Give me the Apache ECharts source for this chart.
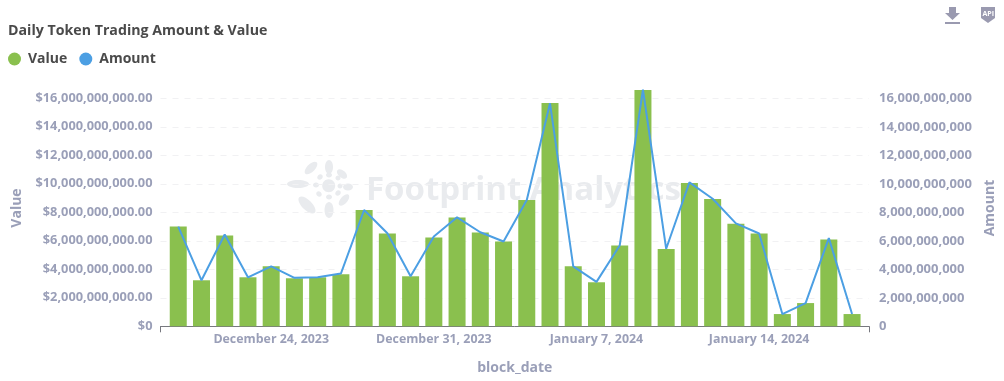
<!DOCTYPE html>
<html><head><meta charset="utf-8">
<style>html,body{margin:0;padding:0;background:#fff}#c{width:1004px;height:381px}</style>
<script src="https://cdn.jsdelivr.net/npm/echarts@6/dist/echarts.min.js"></script>
</head><body><div id="c"></div>
<script>
var dates=['2023-12-20','2023-12-21','2023-12-22','2023-12-23','2023-12-24','2023-12-25','2023-12-26','2023-12-27','2023-12-28','2023-12-29','2023-12-30','2023-12-31','2024-01-01','2024-01-02','2024-01-03','2024-01-04','2024-01-05','2024-01-06','2024-01-07','2024-01-08','2024-01-09','2024-01-10','2024-01-11','2024-01-12','2024-01-13','2024-01-14','2024-01-15','2024-01-16','2024-01-17','2024-01-18'];
var valueB=[7.0,3.23,6.37,3.44,4.21,3.37,3.44,3.65,8.16,6.51,3.51,6.23,7.63,6.58,5.95,8.87,15.67,4.21,3.09,5.67,16.58,5.42,10.06,8.93,7.2,6.51,0.86,1.63,6.09,0.86];
var amountB=[7.0,3.23,6.44,3.44,4.21,3.4,3.44,3.7,8.16,6.53,3.51,6.3,7.65,6.6,5.95,8.87,15.65,4.21,3.12,5.67,16.6,5.44,10.1,8.95,7.22,6.51,0.86,1.63,6.19,0.86];
var weekTicks=['2023-12-24','2023-12-31','2024-01-07','2024-01-14'];
var axisStart='2023-12-19T05:40:00Z', axisEnd='2024-01-18T17:30:00Z';
var labelColor='#9a9fb8', font='"Open Sans","Noto Sans",sans-serif';
function t(s){return new Date(s.length>10?s:s+'T00:00:00Z').getTime();}
function fmtDate(v){var d=new Date(v);var m=['January','February','March','April','May','June','July','August','September','October','November','December'];return m[d.getUTCMonth()]+' '+d.getUTCDate()+', '+d.getUTCFullYear();}
function commas(v){return String(Math.round(v)).replace(/\B(?=(\d{3})+$)/g,',');}
function pairs(a){return a.map(function(v,i){return [t(dates[i]),v*1e9];});}
var chart=echarts.init(document.getElementById('c'),null,{renderer:'canvas'});
var wm='#e9ebee';
var logo=[[329,167,4,7,0],[311,168,4,8,-45],[298,184,4,11,90],[307,205,5,11,45],[329,210,4.5,8,0],[344,200,3.5,7,-40],[348,187,3.5,5,90],[342,174,3.5,6,50],
 [329,175,3,2.5,0],[320,177,2.5,3,-45],[316,185,2.5,3,90],[319,194,2.5,3,45],[329,197,3,2.5,0],[338,193,2.5,3,-45],[340,186,2.5,2.5,0],[338,178,2.5,2.5,45],[328.7,185.7,6.5,6.5,0]];
var logoEls=logo.map(function(p){return {type:'ellipse',x:p[0],y:p[1],rotation:p[4]*Math.PI/180,shape:{cx:0,cy:0,rx:p[2],ry:p[3]},style:{fill:wm},silent:true,z:0};});
var yAxisBase={type:'value',min:0,max:16.6e9,interval:2e9,axisLine:{show:false},axisTick:{show:false},nameLocation:'middle',
  nameTextStyle:{color:labelColor,fontFamily:font,fontWeight:700,fontSize:14}};
chart.setOption({
  animation:false,
  title:{text:'Daily Token Trading Amount & Value',left:3,top:19,textStyle:{fontFamily:font,fontSize:14.2,fontWeight:700,color:'#4a4a4a'}},
  legend:{left:3,top:47,itemWidth:13,itemHeight:13,itemGap:12,icon:'circle',data:['Value','Amount'],textStyle:{fontFamily:font,fontSize:14,fontWeight:700,color:'#4a4a4a',padding:[0,0,0,2]}},
  grid:{left:160.5,right:135,top:89.75,bottom:54.7,outerBoundsMode:'none'},
  xAxis:{type:'value',min:t(axisStart),max:t(axisEnd),name:'block_date',nameLocation:'middle',nameGap:35,
    nameTextStyle:{color:labelColor,fontFamily:font,fontWeight:700,fontSize:14},
    axisLine:{onZero:false,lineStyle:{color:'#77787f',width:1}},
    axisTick:{show:true,length:6,customValues:[t(axisStart),t(axisEnd)],lineStyle:{color:'#77787f'}},
    axisLabel:{customValues:weekTicks.map(t),formatter:function(v){return fmtDate(v);},color:labelColor,fontFamily:font,fontWeight:700,fontSize:12.4,margin:7,hideOverlap:false},
    splitLine:{show:false}},
  yAxis:[
    Object.assign({},yAxisBase,{position:'left',name:'Value',nameGap:136,
      axisLabel:{color:labelColor,fontFamily:font,fontWeight:700,fontSize:12.8,margin:8,showMaxLabel:false,formatter:function(v){return v===0?'$0':'$'+commas(v)+'.00';}},
      splitLine:{show:true,showMaxLine:false,showMinLine:false,lineStyle:{color:'#f1f1f3',type:[6,6],width:1}}}),
    Object.assign({},yAxisBase,{position:'right',name:'Amount',nameGap:113,
      axisLabel:{color:labelColor,fontFamily:font,fontWeight:700,fontSize:13,margin:10,showMaxLabel:false,formatter:function(v){return commas(v);}},
      splitLine:{show:false}})
  ],
  series:[
    {name:'Value',type:'bar',barWidth:17,yAxisIndex:0,data:pairs(valueB),itemStyle:{color:'#8ac04e'},z:2},
    {name:'Amount',type:'line',yAxisIndex:1,data:pairs(amountB),showSymbol:false,smooth:false,lineStyle:{color:'#4c9fe3',width:2},itemStyle:{color:'#4c9fe3'},z:3}
  ],
  graphic:{elements:logoEls.concat([
    {type:'text',x:366,y:174,silent:true,z:0,style:{text:'Footprint Analytics',font:'700 33px '+font,fill:wm}},
    {type:'group',x:945,y:7,children:[
      {type:'polygon',shape:{points:[[4,0],[11,0],[11,6],[15,6],[7.5,13],[0,6],[4,6]]},style:{fill:'#9a9ab0'}},
      {type:'rect',shape:{x:0,y:15,width:15,height:2},style:{fill:'#9a9ab0'}}]},
    {type:'group',x:981,y:7,children:[
      {type:'polygon',shape:{points:[[0,0],[14,0],[14,11],[7,16],[0,11]]},style:{fill:'#9a9ab0'}},
      {type:'text',x:1.5,y:3,style:{text:'API',font:'700 7px '+font,fill:'#fff'}}]}
  ])}
});
</script></body></html>
